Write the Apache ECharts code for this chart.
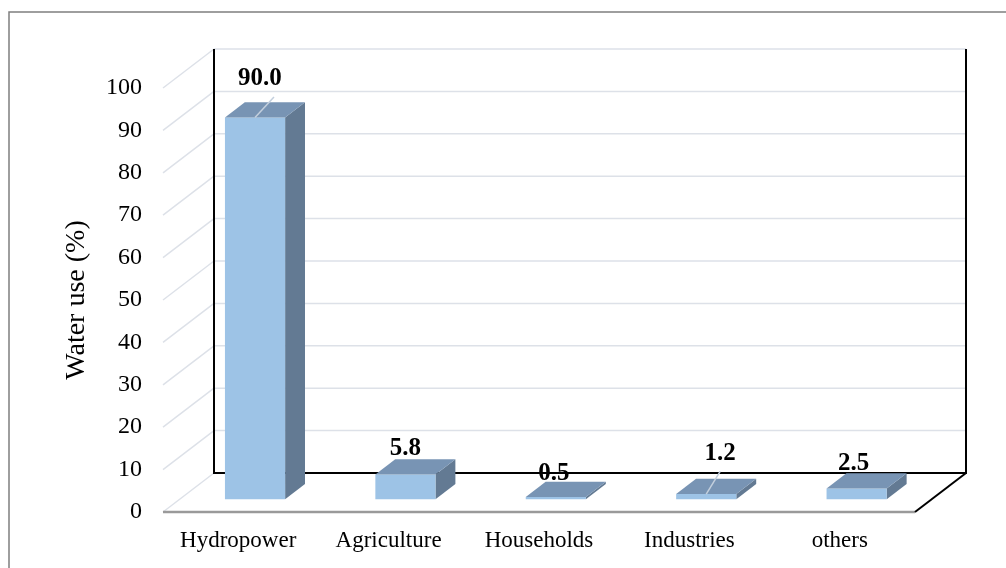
<!DOCTYPE html>
<html>
<head>
<meta charset="utf-8">
<script src="https://cdn.jsdelivr.net/npm/echarts@6/dist/echarts.min.js"></script>
<style>
html,body{margin:0;padding:0;background:#fff;}
#chart{width:1006px;height:568px;}
</style>
</head>
<body>
<div id="chart"></div>
<script>
// ---- data ----
var categories = ['Hydropower', 'Agriculture', 'Households', 'Industries', 'others'];
var waterUse = [90.0, 5.8, 0.5, 1.2, 2.5];
var valueLabels = ['90.0', '5.8', '0.5', '1.2', '2.5'];
var yTicks = [0, 10, 20, 30, 40, 50, 60, 70, 80, 90, 100];
var yTitle = 'Water use (%)';

// ---- layout / style (not data) ----
var DEPTH = [51, -39];          // 3D depth vector in px
var BAR_F0 = 0.33, BAR_F1 = 0.72; // bar front/back depth fractions
var BAR_W = 0.4;                // bar width fraction of band
var labelShift = [[-5, -31], [-10, -18], [-12, -16], [4, -33], [-13, -17]];
var leaderFrom = [[14, 18], null, null, [0, 18], null];
var C_FRONT = '#9dc3e6', C_TOP = '#7894b4', C_SIDE = '#637a93';
var C_GRID = '#dde1e8';
var SERIF = '"Liberation Serif", "Times New Roman", serif';

var chart = echarts.init(document.getElementById('chart'), null, {renderer: 'canvas'});

function bandInfo(api) {
  var band = api.size([1, 0])[0];
  var first = api.coord([0, 0]);
  var last = api.coord([categories.length - 1, 0]);
  return {band: band, left: first[0] - band / 2, right: last[0] + band / 2, y0: first[1]};
}

var option = {
  animation: false,
  graphic: [{
    type: 'rect', silent: true,
    shape: {x: 9, y: 12, width: 1100, height: 700},
    style: {fill: 'none', stroke: '#7f7f7f', lineWidth: 1.5}
  }],
  grid: {left: 163, right: 91, top: 88, bottom: 56, containLabel: false},
  xAxis: {
    type: 'category',
    data: categories,
    axisLine: {show: false},
    axisTick: {show: false},
    splitLine: {show: false},
    axisLabel: {interval: 0, hideOverlap: false, fontSize: 23, fontFamily: SERIF, color: '#000', margin: 17}
  },
  yAxis: {
    type: 'value',
    min: 0, max: 100, interval: 10,
    name: yTitle,
    nameLocation: 'middle',
    nameGap: 72,
    nameTextStyle: {fontSize: 28, fontFamily: SERIF, color: '#000'},
    axisLine: {show: false},
    axisTick: {show: false},
    splitLine: {show: false},
    axisLabel: {fontSize: 24, fontFamily: SERIF, color: '#000', margin: 21}
  },
  series: [
    {
      type: 'custom',
      clip: false,
      silent: true,
      z: 1,
      data: yTicks.map(function (t) { return [0, t]; }),
      encode: {x: 0, y: 1},
      renderItem: function (params, api) {
        var b = bandInfo(api);
        var v = api.value(1);
        var y = api.coord([0, v])[1];
        var children = [{
          type: 'line',
          shape: {x1: b.left, y1: y, x2: b.left + DEPTH[0], y2: y + DEPTH[1]},
          style: {stroke: C_GRID, lineWidth: 1.5}
        }];
        if (v > 0) {
          children.push({
            type: 'line',
            shape: {x1: b.left + DEPTH[0], y1: y + DEPTH[1], x2: b.right + DEPTH[0], y2: y + DEPTH[1]},
            style: {stroke: C_GRID, lineWidth: 1.5}
          });
        }
        return {type: 'group', children: children};
      }
    },
    {
      type: 'custom',
      clip: false,
      silent: true,
      z: 2,
      data: [[0, yTicks[yTicks.length - 1]]],
      encode: {x: 0, y: 1},
      renderItem: function (params, api) {
        var b = bandInfo(api);
        var yTop = api.coord([0, api.value(1)])[1];
        var bx0 = b.left + DEPTH[0], bx1 = b.right + DEPTH[0];
        var by0 = b.y0 + DEPTH[1], byT = yTop + DEPTH[1];
        return {type: 'group', children: [
          {type: 'polyline', shape: {points: [[bx0, byT], [bx0, by0], [bx1, by0], [bx1, byT]]},
           style: {stroke: '#000', lineWidth: 2, fill: null}},
          {type: 'line', shape: {x1: b.left, y1: b.y0, x2: b.right, y2: b.y0},
           style: {stroke: '#9a9a9a', lineWidth: 2.5}},
          {type: 'line', shape: {x1: b.right, y1: b.y0, x2: bx1, y2: by0},
           style: {stroke: '#000', lineWidth: 2}}
        ]};
      }
    },
    {
      type: 'custom',
      clip: false,
      silent: true,
      z: 3,
      data: waterUse.map(function (v, i) { return [i, v]; }),
      encode: {x: 0, y: 1},
      renderItem: function (params, api) {
        var i = api.value(0);
        var v = api.value(1);
        var b = bandInfo(api);
        var w = b.band * BAR_W;
        var top = api.coord([i, v]);
        var base = api.coord([i, 0]);
        var x0 = top[0] - w / 2 + BAR_F0 * DEPTH[0];
        var x1 = x0 + w;
        var yT = top[1] + BAR_F0 * DEPTH[1];
        var yB = base[1] + BAR_F0 * DEPTH[1];
        var dx = (BAR_F1 - BAR_F0) * DEPTH[0];
        var dy = (BAR_F1 - BAR_F0) * DEPTH[1];
        var children = [
          {type: 'polygon', shape: {points: [[x1, yT], [x1 + dx, yT + dy], [x1 + dx, yB + dy], [x1, yB]]},
           style: {fill: C_SIDE}},
          {type: 'rect', shape: {x: x0, y: yT, width: w, height: Math.max(yB - yT, 0.8)},
           style: {fill: C_FRONT}},
          {type: 'polygon', shape: {points: [[x0, yT], [x1, yT], [x1 + dx, yT + dy], [x0 + dx, yT + dy]]},
           style: {fill: C_TOP}}
        ];
        var ax = (x0 + x1) / 2 + dx / 2, ay = yT + dy / 2;
        var lx = ax + labelShift[i][0], ly = ay + labelShift[i][1];
        if (leaderFrom[i]) {
          children.push({type: 'line',
            shape: {x1: lx + leaderFrom[i][0], y1: ly + leaderFrom[i][1], x2: (x0 + x1) / 2, y2: yT},
            style: {stroke: '#c3cfdd', lineWidth: 1.5}});
        }
        children.push({
          type: 'text', x: lx, y: ly,
          style: {text: valueLabels[i], font: 'bold 25px ' + SERIF, fill: '#000',
                  align: 'center', verticalAlign: 'middle',
                  textAlign: 'center', textVerticalAlign: 'middle'}
        });
        return {type: 'group', children: children};
      }
    }
  ]
};
chart.setOption(option);
</script>
</body>
</html>
